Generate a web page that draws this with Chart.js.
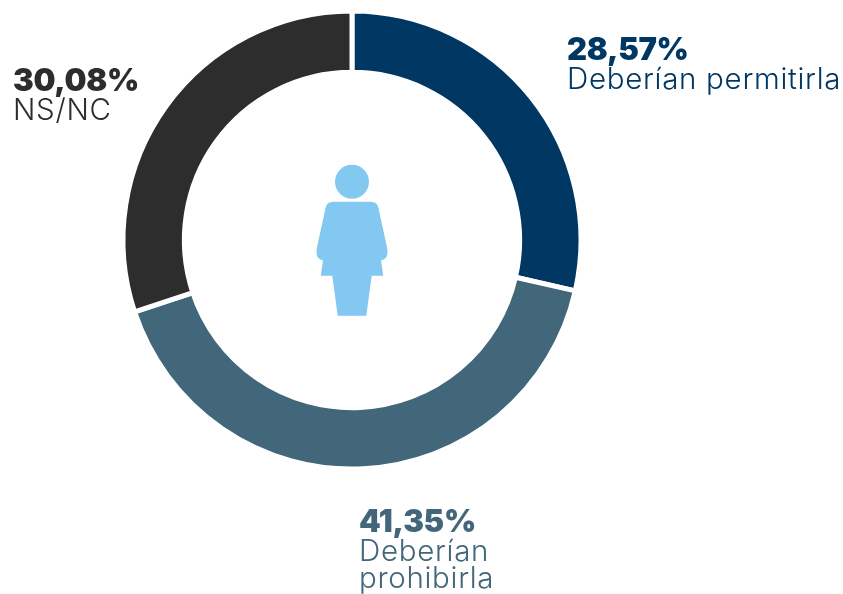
<!DOCTYPE html>
<html><head><meta charset="utf-8">
<script src="https://cdn.jsdelivr.net/npm/chart.js@4/dist/chart.umd.min.js"></script>
<style>
html,body{margin:0;padding:0;background:#fff;width:843px;height:594px;overflow:hidden}
#w{position:relative;width:843px;height:594px}
canvas{position:absolute;left:0;top:0}
.t{position:absolute;font-family:Inter,"Noto Sans",sans-serif;white-space:nowrap;font-weight:300;font-size:29.5px;line-height:27px;letter-spacing:.7px}
.t b{display:block;font-weight:900;font-size:31px;line-height:29px;letter-spacing:-.3px;margin-bottom:1.5px}
</style></head><body>
<div id="w"><canvas id="c" width="843" height="594"></canvas>
<div class="t" style="left:567px;top:34px;color:#003763"><b>28,57%</b>Deberían permitirla</div>
<div class="t" style="left:359px;top:506px;color:#42667A"><b>41,35%</b>Deberían<br>prohibirla</div>
<div class="t" style="left:13px;top:65px;color:#2D2D2D"><b>30,08%</b>NS/NC</div>
</div>
<script>
const categories=["Deberían permitirla","Deberían prohibirla","NS/NC"];
const values=[28.57,41.35,30.08];
const colors=["#003763","#42667A","#2D2D2D"];
const figure={id:'figure',afterDraw(ch){
  const m=ch.getDatasetMeta(0).data[0],cx=m.x,cy=m.y,g=ch.ctx;
  g.save();g.translate(cx,cy);g.fillStyle="#82C8F0";
  g.beginPath();g.arc(0,-58.3,17,0,Math.PI*2);g.fill();
  g.beginPath();
  g.moveTo(-19,-38.3);
  g.lineTo(19,-38.3);
  g.quadraticCurveTo(25,-38.3,26.5,-32);
  g.lineTo(35.3,9);
  g.quadraticCurveTo(37,19,29,20.5);
  g.lineTo(31.3,35.7);
  g.lineTo(19.7,35.7);
  g.lineTo(14.3,75.7);
  g.lineTo(-14.3,75.7);
  g.lineTo(-19.7,35.7);
  g.lineTo(-31.3,35.7);
  g.lineTo(-29,20.5);
  g.quadraticCurveTo(-37,19,-35.3,9);
  g.lineTo(-26.5,-32);
  g.quadraticCurveTo(-25,-38.3,-19,-38.3);
  g.closePath();g.fill();g.restore();
}};
new Chart(document.getElementById('c'),{type:'doughnut',
 data:{labels:categories,datasets:[{data:values,backgroundColor:colors,borderColor:'#fff',borderWidth:5,hoverOffset:0}]},
 options:{responsive:false,animation:false,cutout:'73.2%',
  layout:{padding:{left:120.5,right:259.5,top:8.5,bottom:122.5}},
  plugins:{legend:{display:false},tooltip:{enabled:false}}},
 plugins:[figure]});
</script></body></html>
